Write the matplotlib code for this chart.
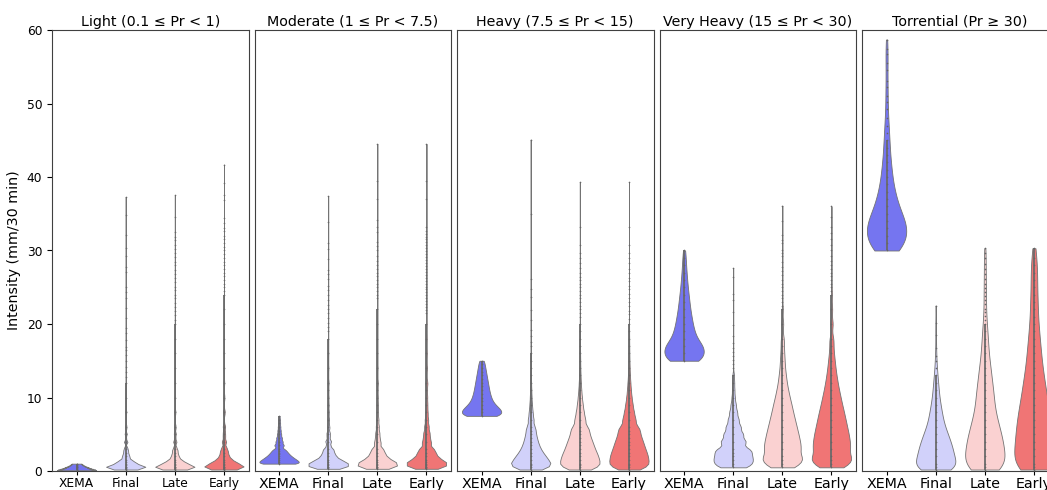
import colorsys
import numpy as np
import matplotlib
matplotlib.use('Agg')
import matplotlib.pyplot as plt

products = ['XEMA', 'Final', 'Late', 'Early']
titles = ['Light (0.1 ≤ Pr < 1)', 'Moderate (1 ≤ Pr < 7.5)', 'Heavy (7.5 ≤ Pr < 15)',
          'Very Heavy (15 ≤ Pr < 30)', 'Torrential (Pr ≥ 30)']

# each violin: (values, counts); sparse outliers have count 1
light_xema = ([0.1, 0.2, 0.3, 0.4, 0.5, 0.6, 0.7, 0.8, 0.9, 1.0],
              [3000, 2760, 2400, 2100, 1800, 1500, 1260, 1050, 900, 750])
light_final = ([0.2, 0.3, 0.4, 0.5, 0.6, 0.8, 1.0, 1.25, 1.5, 2, 2.5, 3, 4, 5, 6, 8, 10, 12,
                12.8, 13.5, 14.2, 15.0, 15.8, 16.5, 16.9, 17.8, 18.8, 19.4, 20.8, 22.2, 23.5,
                24.4, 25.1, 27.1, 27.8, 29.2, 30.4, 32.1, 34.8, 37.3],
               [2400, 3400, 4000, 4000, 5400, 5200, 3960, 3300, 3700, 3000, 2000, 2100, 1600,
                1000, 900, 640, 320, 160] + [1] * 22)
light_late = ([0.2, 0.3, 0.4, 0.5, 0.6, 0.8, 1.0, 1.25, 1.5, 2, 2.5, 3, 4, 5, 6, 8, 10, 12, 14,
               16, 18, 20,
               20.6, 21.2, 21.8, 22.3, 22.9, 23.5, 24.0, 24.6, 25.1, 25.7, 26.3, 26.8, 27.4, 28.0,
               28.5, 29.1, 29.7, 30.2, 30.8, 31.4, 31.9, 32.5, 34.6, 37.5],
              [2300, 3300, 4000, 4000, 5400, 5300, 4100, 3400, 3800, 3100, 2100, 2200, 1700, 1100,
               950, 700, 380, 220, 140, 100, 70, 50] + [1] * 24)
light_early = ([0.2, 0.3, 0.4, 0.5, 0.6, 0.8, 1.0, 1.25, 1.5, 2, 2.5, 3, 4, 5, 6, 8, 10, 12, 14,
                16, 18, 20, 22, 24,
                24.5, 25.0, 25.5, 26.0, 26.5, 27.0, 27.5, 28.0, 28.5, 29.0, 29.5, 30.0, 30.5,
                31.0, 31.5, 32.0, 32.6, 33.0, 33.7, 34.4, 36.9, 37.5, 39.2, 41.7],
               [2200, 3200, 3900, 4000, 5500, 5500, 4400, 3800, 4400, 3800, 2700, 3000, 2400,
                1600, 1400, 1000, 600, 380, 250, 180, 130, 100, 80, 60] + [1] * 24)

mod_xema = ([1.0, 1.25, 1.5, 1.75, 2.0, 2.25, 2.5, 2.75, 3.0, 3.5, 4.0, 4.5, 5.0, 5.5, 6.0, 6.5,
             7.0, 7.5],
            [2500, 2300, 2000, 1700, 1400, 1175, 1000, 825, 700, 1000, 750, 600, 450, 350, 275,
             225, 175, 125])
mod_final = ([0.3, 0.4, 0.5, 0.6, 0.8, 1.0, 1.25, 1.5, 2, 2.5, 3, 4, 5, 6, 7, 8, 9, 10, 11, 12,
              14, 16, 18,
              19.0, 19.6, 20.2, 20.8, 21.5, 22.1, 22.6, 23.3, 24.0, 24.6, 25.2, 26.1, 26.8, 27.4,
              28.8, 30.2, 31.0, 33.9, 37.4],
             [1000, 1400, 1700, 2850, 4000, 3740, 3250, 3700, 3300, 2200, 2400, 1800, 1200, 800,
              560, 400, 310, 240, 180, 280, 160, 120, 80] + [1] * 19)
mod_late = ([0.3, 0.4, 0.5, 0.6, 0.8, 1.0, 1.25, 1.5, 2, 2.5, 3, 4, 5, 6, 7, 8, 9, 10, 11, 12,
             14, 16, 18, 20, 22,
             23.5, 24.0, 24.5, 25.0, 25.5, 26.0, 26.5, 27.0, 27.5, 28.0, 28.6, 29.2, 30.0, 30.6,
             31.2, 32.5, 33.2, 34.2, 37.0, 39.5, 44.5],
            [950, 1350, 1650, 2800, 4000, 3800, 3400, 3950, 3700, 2600, 2900, 2300, 1600, 1070,
             780, 550, 440, 350, 270, 420, 260, 180, 130, 90, 60] + [1] * 21)
mod_early = ([0.3, 0.4, 0.5, 0.6, 0.8, 1.0, 1.25, 1.5, 2, 2.5, 3, 4, 5, 6, 7, 8, 9, 10, 11, 12,
              14, 16, 18, 20,
              21.5, 21.9, 22.3, 22.7, 23.1, 23.5, 23.9, 24.3, 24.7, 25.1, 25.5, 25.9, 26.3, 26.7,
              27.1, 27.5, 27.9, 28.3, 28.7, 29.1, 29.5, 29.9, 30.3, 30.7, 31.1, 31.5, 31.9, 32.3,
              32.7, 33.2, 37.0, 39.5, 44.5],
             [900, 1300, 1600, 2700, 3900, 3900, 3600, 4300, 4200, 3200, 3700, 3200, 2400, 1600,
              1200, 850, 680, 550, 440, 700, 450, 320, 220, 160] + [1] * 33)

heavy_xema = ([7.5, 8.0, 8.5, 9.0, 9.5, 10.0, 10.5, 11.0, 11.5, 12.0, 12.5, 13.0, 13.5, 14.0,
               14.5, 15.0],
              [1800, 2000, 1700, 1300, 1040, 900, 800, 720, 660, 600, 540, 480, 420, 360, 300,
               240])
heavy_final = ([0.2, 0.5, 0.8, 1.0, 1.5, 2, 2.5, 3, 3.5, 4, 4.5, 5, 5.5, 6, 7, 8, 9, 10, 11, 12,
                13, 14, 15, 16,
                17.0, 17.6, 18.3, 19.2, 20.5, 21.9, 23.7, 24.7, 26.1, 35.0, 45.1],
               [1750, 2700, 2500, 3500, 4250, 3500, 2850, 2300, 1950, 1650, 1450, 1250, 1050,
                1350, 1300, 900, 600, 400, 300, 200, 150, 120, 90, 70] + [1] * 11)
heavy_late = ([0.2, 0.5, 0.8, 1.0, 1.5, 2, 2.5, 3, 3.5, 4, 4.5, 5, 5.5, 6, 7, 8, 9, 10, 11, 12,
               13, 14, 15, 16, 17, 18, 19, 20,
               21.0, 21.5, 22.0, 22.5, 23.0, 23.5, 24.0, 24.5, 25.0, 25.5, 26.0, 26.4, 27.0, 27.6,
               28.3, 29.0, 29.6, 30.7, 33.2, 39.3],
              [1875, 2760, 2500, 3500, 4750, 4400, 4000, 3600, 3300, 3000, 2650, 2350, 2050, 2625,
               2600, 1900, 1400, 1000, 700, 500, 350, 250, 200, 150, 120, 100, 80, 60] + [1] * 20)
heavy_early = ([0.2, 0.5, 0.8, 1.0, 1.5, 2, 2.5, 3, 3.5, 4, 4.5, 5, 5.5, 6, 7, 8, 9, 10, 11, 12,
                13, 14, 15, 16, 17, 18, 19, 20,
                20.7, 21.3, 21.8, 22.4, 23.0, 23.6, 24.1, 24.7, 25.2, 25.8, 26.3, 26.9, 27.5,
                28.3, 29.0, 29.6, 30.7, 33.2, 39.3],
               [1800, 2700, 2500, 3500, 4800, 4600, 4300, 3950, 3650, 3400, 3050, 2750, 2450,
                3200, 3200, 2400, 1800, 1300, 950, 700, 480, 340, 260, 200, 150, 120, 90, 70]
               + [1] * 19)

vh_xema = ([15, 16, 17, 18, 19, 20, 21, 22, 23, 24, 25, 26, 27, 28, 29, 30],
           [1700, 2000, 1900, 1240, 1000, 840, 720, 600, 520, 440, 360, 300, 240, 200, 160, 120])
vh_final = ([0.5, 1.0, 1.5, 2, 2.5, 3, 4, 5, 6, 7, 8, 9, 10, 11, 12, 13,
             14.0, 14.6, 15.1, 15.6, 16.2, 16.7, 17.4, 18.3, 19.9, 21.7, 23.2, 24.1, 26.4, 27.6],
            [4000, 4850, 5000, 4750, 4250, 5625, 6000, 4700, 3600, 2600, 1900, 1300, 800, 600,
             500, 400] + [1] * 14)
vh_late = ([0.5, 1.0, 1.5, 2, 3, 4, 5, 6, 7, 8, 9, 10, 11, 12, 13, 14, 15, 16, 17, 18, 20, 22,
            22.5, 23.0, 23.5, 24.0, 24.5, 25.0, 25.5, 26.0, 26.6, 27.2, 27.8, 28.4, 29.2, 29.6,
            30.0, 31.0, 31.4, 32.1, 34.0, 36.1],
           [4000, 4750, 5000, 7350, 9600, 9000, 8200, 7300, 6400, 5500, 4700, 3800, 3000, 2300,
            1850, 1400, 1200, 1000, 800, 900, 700, 400] + [1] * 20)
vh_early = ([0.5, 1.0, 1.5, 2, 3, 4, 5, 6, 7, 8, 9, 10, 11, 12, 13, 14, 15, 16, 17, 18, 20, 22,
             24,
             24.5, 25.0, 25.5, 26.0, 26.5, 27.0, 27.5, 28.0, 28.6, 29.3, 30.0, 30.8, 31.6, 32.4,
             33.2, 34.5, 36.0],
            [4250, 4850, 5000, 7500, 9700, 9400, 8800, 8000, 7200, 6400, 5500, 4700, 3900, 3200,
             2600, 2100, 1700, 1300, 1000, 1200, 1000, 600, 400] + [1] * 17)

tor_xema = ([30, 31, 32, 33, 34, 35, 36, 37, 38, 39, 40, 41, 42, 43, 44, 45, 46, 47, 48,
             49.3, 50.2, 51.0, 52.2, 53.0, 54.5, 55.5, 56.7, 57.4, 58.7],
            [16, 18, 19, 20, 18, 14, 11, 9, 8, 6, 5, 5, 4, 3, 3, 3, 2, 2, 2] + [1] * 10)
tor_final = ([0.2, 0.5, 1, 2, 3, 4, 5, 6, 7, 8, 9, 10, 11, 12, 13, 14,
              14.9, 15.6, 16.8, 18.5, 20.1, 22.5],
             [18, 14, 28, 30, 28, 24, 20, 15, 12, 10, 8, 6, 5, 4, 3, 2] + [1] * 6)
tor_late = ([0.2, 0.5, 1, 2, 3, 4, 5, 6, 7, 8, 9, 10, 11, 12, 13, 14, 15, 16, 17, 18, 19, 20,
             20.6, 21.1, 21.6, 22.1, 22.7, 23.2, 23.8, 24.3, 24.9, 25.5, 26.1, 26.8, 27.5, 28.2,
             29.0, 29.7, 30.3],
            [18, 14, 28, 30, 29, 28, 25, 22, 19, 16, 14, 14, 13, 11, 10, 9, 7, 6, 5, 5, 4, 3]
            + [1] * 17)
tor_early = ([0.2, 0.5, 1, 2, 3, 4, 5, 6, 7, 8, 9, 10, 11, 12, 13, 14, 15, 16, 17, 18, 19, 20,
              21, 22, 23, 24, 25, 26, 27, 28, 29, 30.3],
             [18, 14, 29, 30, 30, 29, 28, 27, 26, 24, 22, 20, 18, 17, 15, 13, 12, 11, 10, 9, 8, 7,
              6, 6, 6, 5, 5, 5, 5, 5, 4, 4])

panels = [
    [light_xema, light_final, light_late, light_early],
    [mod_xema, mod_final, mod_late, mod_early],
    [heavy_xema, heavy_final, heavy_late, heavy_early],
    [vh_xema, vh_final, vh_late, vh_early],
    [tor_xema, tor_final, tor_late, tor_early],
]
bw_adjust = [1.0, 1.0, 1.3, 1.4, 0.7]


def soften(c, sat=0.8):
    h, l, s = colorsys.rgb_to_hls(*c[:3])
    return colorsys.hls_to_rgb(h, l, s * sat)


cmap = plt.get_cmap('bwr')
colors = [soften(cmap(x)) for x in (0.2, 0.4, 0.6, 0.8)]


def draw_violin(ax, pos, spec, color, adj):
    vals, cnts = np.asarray(spec[0], float), np.asarray(spec[1])
    data = np.repeat(vals, cnts)
    parts = ax.violinplot([data], positions=[pos], widths=0.8, showextrema=False,
                          bw_method=lambda kde: kde.scotts_factor() * adj)
    for body in parts['bodies']:
        body.set_alpha(1)
        body.set_facecolor(color)
        body.set_edgecolor((0.45, 0.45, 0.45, 0.2))
        body.set_linewidth(0.6)
    # inner points: solid where the data are dense, dots in the sparse tail
    dense = vals[cnts >= 3]
    ax.vlines(pos, vals.min(), dense.max(), color='0.42', lw=1.3, zorder=3)
    ax.scatter(np.full(len(vals), pos), vals, s=1.4, color='0.4', linewidths=0, zorder=4)


fig = plt.figure(figsize=(10.47, 4.9), dpi=100)
W, H = 1047.0, 490.0
for k in range(5):
    ax = fig.add_axes([(52 + k * 202.5) / W, 19 / H, 196.5 / W, 441 / H])
    for i, spec in enumerate(panels[k]):
        draw_violin(ax, i, spec, colors[i], bw_adjust[k])
    ax.set_xlim(-0.5, 3.5)
    ax.set_ylim(0, 60)
    ax.set_xticks(range(4))
    ax.tick_params(axis='x', length=3, pad=1.5)
    ax.set_title(titles[k], fontsize=10.3, pad=3)
    for sp in ax.spines.values():
        sp.set_color('0.25')
        sp.set_linewidth(0.8)
    if k == 0:
        ax.set_xticklabels(products, fontsize=8.8)
        ax.tick_params(axis='y', labelsize=8.8)
        ax.set_ylabel('Intensity (mm/30 min)', fontsize=10.3)
    else:
        ax.set_xticklabels(products, fontsize=10.3)
        ax.tick_params(axis='y', left=False, labelleft=False)

fig.savefig('out.png', dpi=100)
